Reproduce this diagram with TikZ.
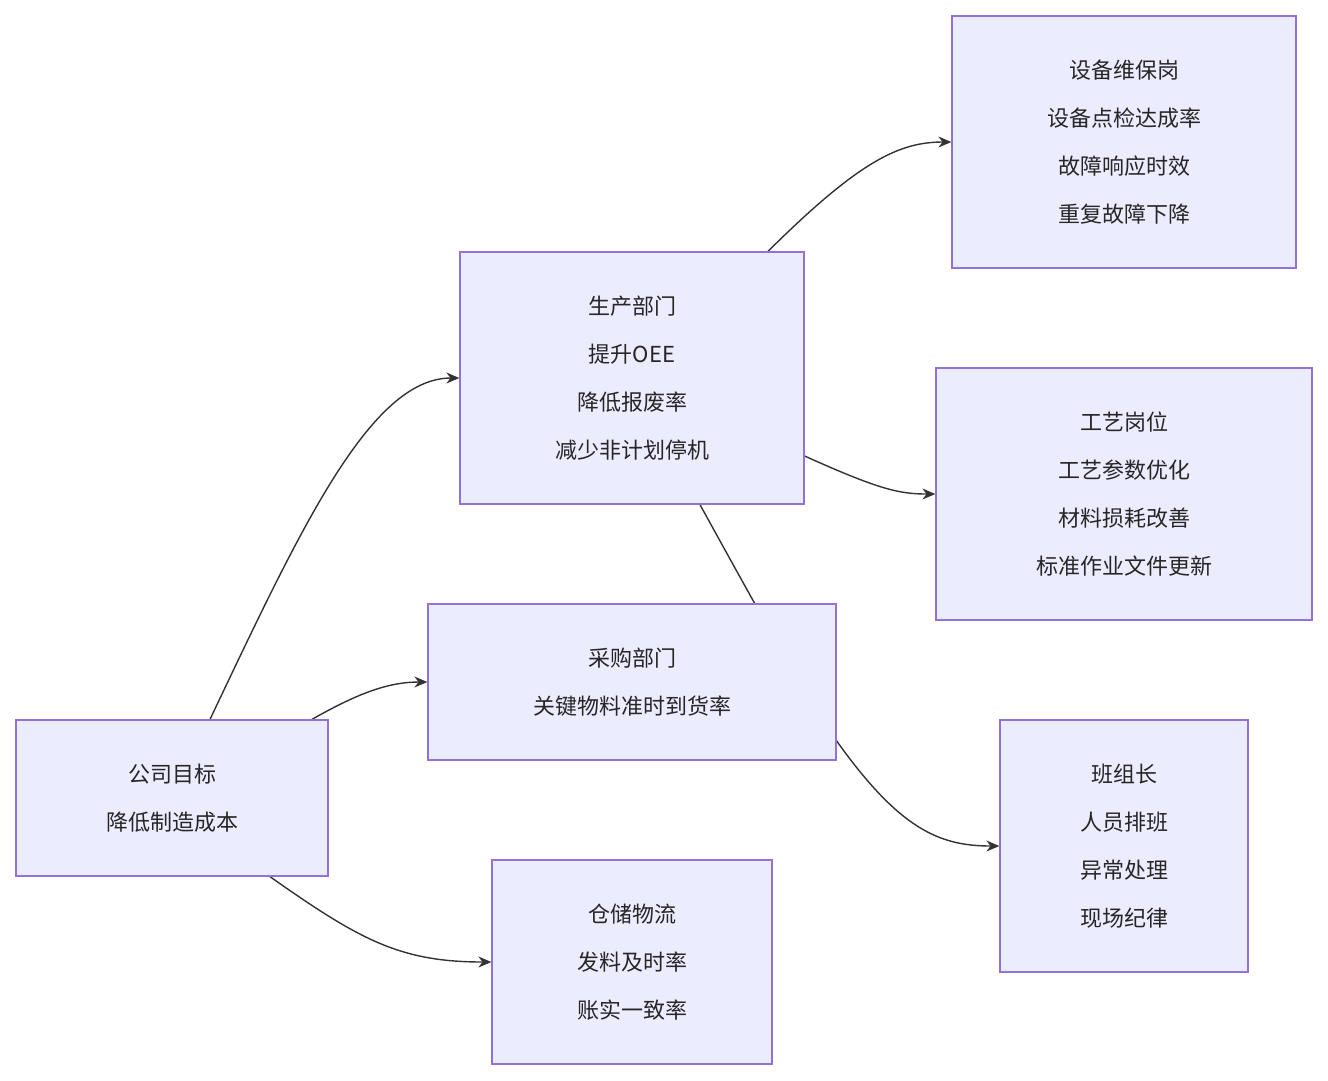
\documentclass[tikz,border=0pt]{standalone}
\usepackage{fontspec}
\setmainfont{Noto Sans CJK SC}
\usetikzlibrary{arrows.meta,backgrounds}
\definecolor{boxfill}{HTML}{ECECFF}
\definecolor{boxline}{HTML}{9370DB}
\definecolor{edgeline}{HTML}{333333}
\begin{document}
\begin{tikzpicture}[
        x=1pt, y=-1pt,
        box/.style={rectangle, draw=boxline, fill=boxfill, line width=1.3pt, align=center, inner sep=0pt, font=\fontsize{22}{48}\selectfont, text=black!85},
        link/.style={draw=edgeline, line width=1.4pt, -{Stealth[length=13pt,width=11pt]}},
        plain_link/.style={draw=edgeline, line width=1.4pt}
    ]
        \useasboundingbox (0,0) rectangle (1328,1080);

        % Goal and departments
        \node[box, minimum width=312, minimum height=156] (goal) at (172,798) {公司目标\\降低制造成本};
        \node[box, minimum width=344, minimum height=252] (production) at (632,378) {生产部门\\提升OEE\\降低报废率\\减少非计划停机};
        \node[box, minimum width=408, minimum height=156] (purchasing) at (632,682) {采购部门\\关键物料准时到货率};
        \node[box, minimum width=280, minimum height=204] (warehouse) at (632,962) {仓储物流\\发料及时率\\账实一致率};

        % Posts
        \node[box, minimum width=344, minimum height=252] (maintenance) at (1124,142) {设备维保岗\\设备点检达成率\\故障响应时效\\重复故障下降};
        \node[box, minimum width=376, minimum height=252] (process) at (1124,494) {工艺岗位\\工艺参数优化\\材料损耗改善\\标准作业文件更新};
        \node[box, minimum width=248, minimum height=252] (teamlead) at (1124,846) {班组长\\人员排班\\异常处理\\现场纪律};

        % Connections
        \begin{scope}[on background layer]
        \draw[link] ([xshift=38]goal.north) .. controls (300,530) and (370,378) .. (production.west);
        \draw[link] ([xshift=140]goal.north) .. controls (360,692) and (390,682) .. (purchasing.west);
        \draw[link] ([xshift=98]goal.south) .. controls (360,940) and (400,962) .. (warehouse.west);
        \draw[link] ([xshift=136]production.north) .. controls (860,160) and (900,142) .. (maintenance.west);
        \draw[link] ([yshift=-78]production.east) .. controls (880,490) and (900,494) .. (process.west);
        \draw[link] ([xshift=68]production.south) .. controls (780,650) and (820,720) .. (836,740) .. controls (900,830) and (940,846) .. (teamlead.west);
        \end{scope}
    \end{tikzpicture}
\end{document}
